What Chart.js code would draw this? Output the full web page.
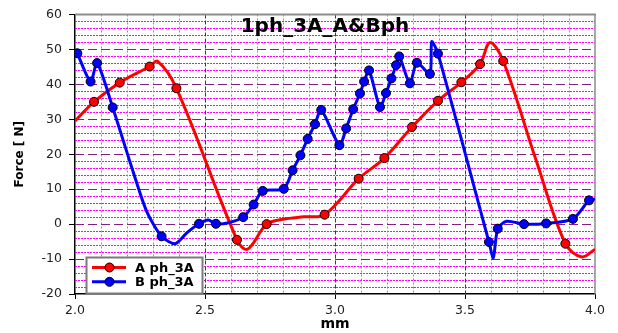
<!DOCTYPE html>
<html>
<head>
<meta charset="utf-8">
<script src="https://cdn.jsdelivr.net/npm/chart.js@4"></script>
<style>
  body { margin: 0; background: #fff; }
  #wrap { width: 618px; height: 333px; }
</style>
</head>
<body>
<div id="wrap"><canvas id="grafico" width="618" height="333"></canvas></div>
<script>
// serie A (roja): puntos con marcador
const aMarcaX = [2.073, 2.172, 2.287, 2.390, 2.623, 2.737, 2.960, 3.091, 3.190, 3.296, 3.396, 3.486, 3.558, 3.647, 3.886];
const aMarcaY = [35.0, 40.5, 45.1, 38.9, -4.5, 0.0, 2.7, 13.0, 18.9, 27.8, 35.3, 40.6, 45.8, 46.7, -5.6];
// serie A: puntos de la curva sin marcador
const aCurvaX = [2.000, 2.318, 2.663, 2.800, 2.880, 3.596, 3.776, 3.949, 4.000];
const aCurvaY = [29.5, 46.6, -7.2, 1.4, 2.1, 52.0, 17.7, -9.4, -7.2];

// serie B (azul): puntos con marcador
const bMarcaX = [2.009, 2.060, 2.085, 2.145, 2.333, 2.477, 2.542, 2.647, 2.687, 2.722, 2.803, 2.837, 2.867, 2.895, 2.923, 2.947,
  3.017, 3.043, 3.070, 3.096, 3.112, 3.131, 3.173, 3.196, 3.217, 3.235, 3.247, 3.288, 3.315, 3.365, 3.396, 3.592, 3.626, 3.727, 3.812, 3.915, 3.977];
const bMarcaY = [48.9, 40.8, 46.1, 33.4, -3.5, 0.1, 0.1, 2.0, 5.6, 9.5, 10.1, 15.4, 19.7, 24.4, 28.6, 32.7,
  22.6, 27.4, 32.9, 37.4, 40.8, 44.0, 33.5, 37.5, 41.7, 45.5, 48.0, 40.3, 46.2, 43.0, 48.8, -5.1, -1.3, 0.0, 0.2, 1.5, 6.8];
// serie B: puntos de la curva sin marcador
const bCurvaX = [2.224, 2.276, 2.385, 2.430, 2.513, 2.590, 3.372, 3.609, 3.660, 4.000];
const bCurvaY = [14.9, 3.6, -5.6, -2.5, 1.2, 0.4, 52.2, -9.6, 0.8, 7.2];

const nombres = ['A ph_3A', 'B ph_3A'];
const titulo = '1ph_3A_A&Bph';
const tituloX = 'mm';
const tituloY = 'Force [ N]';

const xMin = 2.0, xMax = 4.0, xPaso = 0.5, xMenor = 0.1;
const yMin = -20, yMax = 60, yPaso = 10, yMenor = 2;

const fuente = '"DejaVu Sans", sans-serif';

const unir = (mx, my, cx, cy) => {
    const pts = mx.map((x, i) => ({ x: x, y: my[i], m: true }))
        .concat(cx.map((x, i) => ({ x: x, y: cy[i], m: false })));
    return pts.sort((a, b) => a.x - b.x);
};

const linea = (ctx, x1, y1, x2, y2) => {
    ctx.beginPath();
    ctx.moveTo(x1, y1);
    ctx.lineTo(x2, y2);
    ctx.stroke();
};

// rejilla: lineas menores punteadas y mayores a trazos
const rejilla = {
    id: 'rejilla',
    beforeDatasetsDraw(chart) {
        const { ctx, chartArea: a, scales } = chart;
        const sx = scales.x, sy = scales.y;
        ctx.save();
        ctx.lineWidth = 1;

        const nY = Math.round((yMax - yMin) / yMenor);
        const nX = Math.round((xMax - xMin) / xMenor);
        const cadaY = Math.round(yPaso / yMenor);
        const cadaX = Math.round(xPaso / xMenor);

        ctx.strokeStyle = '#ff00ff';
        ctx.setLineDash([2, 1]);
        for (let i = 1; i < nY; i++) {
            if (i % cadaY === 0) continue;
            const p = Math.round(sy.getPixelForValue(yMin + i * yMenor)) + 0.5;
            linea(ctx, a.left, p, a.right, p);
        }
        ctx.strokeStyle = '#22e022';
        ctx.setLineDash([2, 2]);
        for (let i = 1; i < nX; i++) {
            if (i % cadaX === 0) continue;
            const p = Math.round(sx.getPixelForValue(xMin + i * xMenor)) + 0.5;
            linea(ctx, p, a.top, p, a.bottom);
        }
        ctx.strokeStyle = '#80207f';
        ctx.setLineDash([9, 4]);
        for (let i = cadaY; i < nY; i += cadaY) {
            const p = Math.round(sy.getPixelForValue(yMin + i * yMenor)) + 0.5;
            linea(ctx, a.left, p, a.right, p);
        }
        ctx.strokeStyle = '#006600';
        ctx.setLineDash([4, 2]);
        for (let i = cadaX; i < nX; i += cadaX) {
            const p = Math.round(sx.getPixelForValue(xMin + i * xMenor)) + 0.5;
            linea(ctx, p, a.top, p, a.bottom);
        }

        // borde superior y derecho en gris
        ctx.setLineDash([]);
        ctx.strokeStyle = '#8c8c8c';
        ctx.lineWidth = 2;
        linea(ctx, a.left, a.top, a.right + 1, a.top);
        ctx.lineWidth = 1.5;
        linea(ctx, a.right, a.top, a.right, a.bottom);
        ctx.restore();
    },
    afterDraw(chart) {
        const { ctx } = chart;
        ctx.save();
        // titulo dentro del area
        ctx.font = 'bold 20px ' + fuente;
        ctx.fillStyle = '#000';
        ctx.textAlign = 'center';
        ctx.textBaseline = 'alphabetic';
        ctx.fillText(titulo, 325, 32);

        // leyenda
        const bx = 86.5, by = 257.5, bw = 116, bh = 36;
        ctx.fillStyle = '#fff';
        ctx.fillRect(bx, by, bw, bh);
        ctx.strokeStyle = '#7a7a7a';
        ctx.lineWidth = 2;
        ctx.strokeRect(bx, by, bw, bh);
        ctx.font = 'bold 13px ' + fuente;
        ctx.textAlign = 'left';
        ctx.textBaseline = 'middle';
        chart.data.datasets.forEach((ds, i) => {
            const yy = 267.5 + i * 14.3;
            ctx.strokeStyle = ds.borderColor;
            ctx.lineWidth = 3;
            linea(ctx, 92, yy, 126, yy);
            ctx.beginPath();
            ctx.arc(109.5, yy, 4.5, 0, Math.PI * 2);
            ctx.fillStyle = ds.borderColor;
            ctx.fill();
            ctx.lineWidth = 1;
            ctx.strokeStyle = '#000';
            ctx.stroke();
            ctx.fillStyle = '#000';
            ctx.fillText(ds.label, 135, yy + 1);
        });
        ctx.restore();
    }
};

const serie = (nombre, color, datos, orden, tension) => ({
    label: nombre,
    data: datos,
    order: orden,
    borderColor: color,
    backgroundColor: color,
    borderWidth: 3,
    fill: false,
    tension: tension,
    pointRadius: (c) => (c.raw && c.raw.m ? 4.5 : 0),
    pointHoverRadius: (c) => (c.raw && c.raw.m ? 4.5 : 0),
    pointBackgroundColor: color,
    pointBorderColor: '#000',
    pointBorderWidth: 1
});

const chart = new Chart(document.getElementById('grafico'), {
    type: 'line',
    data: {
        datasets: [
            serie(nombres[0], '#ff0000', unir(aMarcaX, aMarcaY, aCurvaX, aCurvaY), 1, 0.35),
            serie(nombres[1], '#0000ff', unir(bMarcaX, bMarcaY, bCurvaX, bCurvaY), 0, 0.25)
        ]
    },
    options: {
        responsive: false,
        animation: false,
        devicePixelRatio: 1,
        layout: { padding: { left: 0, right: 23, top: 10, bottom: 0 } },
        plugins: {
            legend: { display: false },
            tooltip: { enabled: false }
        },
        scales: {
            x: {
                type: 'linear',
                min: xMin,
                max: xMax,
                afterFit: (s) => { s.height = 39; },
                ticks: {
                    stepSize: xPaso,
                    padding: 4,
                    color: '#222',
                    font: { family: fuente, size: 12.5 },
                    callback: (v) => v.toFixed(1)
                },
                grid: { drawOnChartArea: false, drawTicks: true, tickLength: 5, tickColor: '#000' },
                border: { color: '#000', width: 1.5 },
                title: {
                    display: true,
                    text: tituloX,
                    color: '#000',
                    padding: { top: 0, bottom: 0 },
                    font: { family: fuente, size: 14, weight: 'bold' }
                }
            },
            y: {
                min: yMin,
                max: yMax,
                afterFit: (s) => { s.width = 75; },
                ticks: {
                    stepSize: yPaso,
                    padding: 7,
                    color: '#222',
                    font: { family: fuente, size: 12.5 }
                },
                grid: { drawOnChartArea: false, drawTicks: true, tickLength: 6, tickColor: '#000' },
                border: { color: '#000', width: 1.5 },
                title: {
                    display: true,
                    text: tituloY,
                    color: '#000',
                    padding: { top: 13, bottom: 0 },
                    font: { family: fuente, size: 12, weight: 'bold' }
                }
            }
        }
    },
    plugins: [rejilla]
});
</script>
</body>
</html>
